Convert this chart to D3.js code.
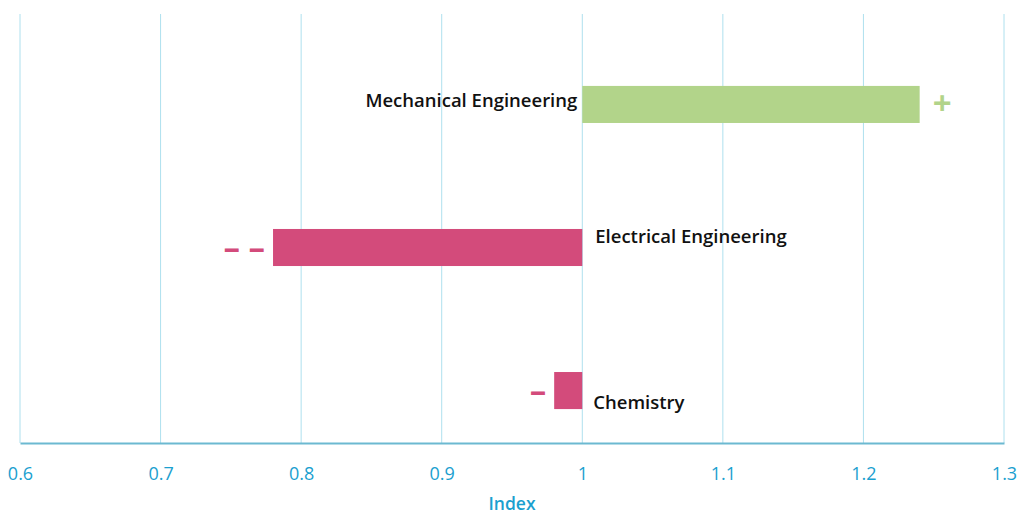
<!DOCTYPE html>
<html><head><meta charset="utf-8">
<script src="https://cdn.jsdelivr.net/npm/d3@7"></script>
<style>body{margin:0;background:#fff}</style>
</head><body>
<svg id="c" width="1022" height="515"></svg>
<script>
const categories = ["Mechanical Engineering", "Electrical Engineering", "Chemistry"];
const values = [1.24, 0.78, 0.98];
const signs = ["+", "– –", "–"];
const xTicks = [0.6, 0.7, 0.8, 0.9, 1.0, 1.1, 1.2, 1.3];
const tickLabels = ["0.6", "0.7", "0.8", "0.9", "1", "1.1", "1.2", "1.3"];
const baseline = 1;

(function(){
const svg = d3.select("#c");
const plotTop = 14, axisY = 443;
const x = d3.scaleLinear().domain([0.6, 1.3]).range([20, 1004]);
const y = d3.scaleBand().domain(categories).range([33, 462]).paddingInner(0.741).paddingOuter(0.37);

const green = "#b2d48a", pink = "#d34b7b";
const col = v => v >= baseline ? green : pink;

// grid
svg.append("g").selectAll("line").data(xTicks).join("line")
  .attr("x1", d => x(d)).attr("x2", d => x(d))
  .attr("y1", plotTop).attr("y2", axisY)
  .attr("stroke", "#aee0ee").attr("stroke-width", 1);

// axis
const ax = svg.append("g").attr("transform", `translate(0,${axisY})`)
  .call(d3.axisBottom(x).tickValues(xTicks).tickSize(0).tickFormat((d, i) => tickLabels[i]));
ax.select(".domain").attr("stroke", "#6cb9d1").attr("stroke-width", 2);
ax.selectAll("text").attr("fill", "#1ba0cf").attr("font-family", "Open Sans, sans-serif")
  .attr("font-size", 18).attr("dy", "1.9em");

svg.append("text").attr("x", x(0.95)).attr("y", 510).attr("text-anchor", "middle")
  .attr("fill", "#1ba0cf").attr("font-family", "Open Sans, sans-serif").attr("font-size", 17.5)
  .attr("font-weight", 600).text("Index");

const data = categories.map((c, i) => ({c, v: values[i], s: signs[i]}));

svg.append("g").selectAll("rect").data(data).join("rect")
  .attr("x", d => x(Math.min(d.v, baseline)))
  .attr("width", d => Math.abs(x(d.v) - x(baseline)))
  .attr("y", d => y(d.c)).attr("height", y.bandwidth())
  .attr("fill", d => col(d.v));

// label layout per row
const labelLayout = [
  {anchor: "end", dx: -5, dy: 15},
  {anchor: "start", dx: 13, dy: 8},
  {anchor: "start", dx: 11, dy: 30}
];
svg.append("g").selectAll("text").data(data).join("text")
  .attr("x", (d, i) => x(baseline) + labelLayout[i].dx)
  .attr("y", (d, i) => y(d.c) + labelLayout[i].dy + 6.5)
  .attr("text-anchor", (d, i) => labelLayout[i].anchor)
  .attr("font-family", "Open Sans, sans-serif").attr("font-size", 18.5).attr("font-weight", 600)
  .attr("fill", "#111").text(d => d.c);

// signs
svg.append("g").selectAll("text").data(data).join("text")
  .attr("x", d => d.v >= baseline ? x(d.v) + 13 : x(d.v) - 8)
  .attr("y", d => y(d.c) + y.bandwidth() / 2 + 11)
  .attr("text-anchor", d => d.v >= baseline ? "start" : "end")
  .attr("font-family", "Open Sans, sans-serif").attr("font-size", 33).attr("font-weight", 700)
  .attr("fill", d => col(d.v)).text(d => d.s);
})();
</script>
</body></html>
